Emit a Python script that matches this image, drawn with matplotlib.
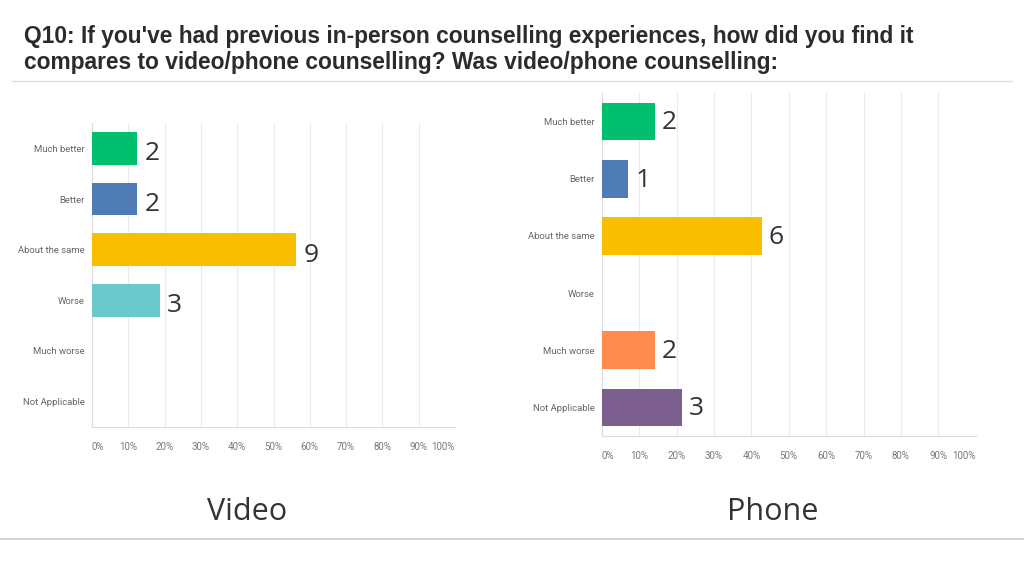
import matplotlib
matplotlib.use("Agg")
import matplotlib.pyplot as plt

categories = ["Much better", "Better", "About the same", "Worse", "Much worse", "Not Applicable"]
video_counts = [2, 2, 9, 3, 0, 0]
phone_counts = [2, 1, 6, 0, 2, 3]
tick_labels = ["0%", "10%", "20%", "30%", "40%", "50%", "60%", "70%", "80%", "90%", "100%"]
bar_colors = ["#00BF6F", "#507CB6", "#F9BE00", "#6BC8CD", "#FF8B4F", "#7D5E90"]

title_lines = ["Q10: If you've had previous in-person counselling experiences, how did you find it",
               "compares to video/phone counselling? Was video/phone counselling:"]

fig = plt.figure(figsize=(10.24, 5.76), dpi=100)
fig.patch.set_facecolor("white")

for line, base in zip(title_lines, [42.5, 68.5]):
    fig.text(24 / 1024, 1 - base / 576, line, ha="left", va="baseline", fontsize=16.4,
             fontweight="bold", family="Liberation Sans", color="#2b2b2b")

# separator lines
fig.add_artist(plt.Line2D([12 / 1024, 1012 / 1024], [1 - 81 / 576] * 2, color="#dddddd", lw=1))
fig.add_artist(plt.Line2D([0, 1], [1 - 539 / 576] * 2, color="#cccccc", lw=1.2))


def draw(ax, counts, bar_h, label_dy):
    total = sum(counts)
    pcts = [c / total * 100 for c in counts]
    ypos = list(range(len(categories)))
    ax.barh(ypos, pcts, height=bar_h, color=bar_colors, zorder=3)
    ax.set_xlim(0, 100)
    ax.set_ylim(len(categories) - 0.5, -0.5)
    ax.set_yticks(ypos)
    ax.set_yticklabels(categories, fontsize=6.8, color="#666666", family="Roboto")
    ax.set_xticks(range(0, 101, 10))
    ax.set_xticklabels(tick_labels, fontsize=7, color="#777777", family="Roboto")
    for i, lbl in enumerate(ax.get_xticklabels()):
        if i == 0:
            lbl.set_ha("left")
        elif i == len(tick_labels) - 1:
            lbl.set_ha("right")
    ax.tick_params(axis="both", length=0)
    ax.tick_params(axis="y", pad=5)
    ax.tick_params(axis="x", pad=11)
    ax.grid(axis="x", color="#ebebeb", lw=0.8, zorder=0)
    for s in ["top", "right"]:
        ax.spines[s].set_visible(False)
    ax.spines["left"].set_color("#dddddd")
    ax.spines["bottom"].set_color("#dddddd")
    for y, c, p in zip(ypos, counts, pcts):
        if c > 0:
            ax.annotate(str(c), (p, y), xytext=(5, label_dy), textcoords="offset points",
                        ha="left", va="center", fontsize=19, color="#333333", family="Open Sans")


ax1 = fig.add_axes([92 / 1024, (576 - 427) / 576, 363 / 1024, 304 / 576])
draw(ax1, video_counts, 0.65, -4)
ax2 = fig.add_axes([601.7 / 1024, (576 - 436) / 576, 374 / 1024, 343 / 576])
draw(ax2, phone_counts, 0.66, -1)

fig.text(247 / 1024, 1 - 512 / 576, "Video", ha="center", va="center", fontsize=22,
         family="Open Sans", color="#333333")
fig.text(773 / 1024, 1 - 512 / 576, "Phone", ha="center", va="center", fontsize=22,
         family="Open Sans", color="#333333")

fig.savefig("out.png", dpi=100, facecolor="white")
